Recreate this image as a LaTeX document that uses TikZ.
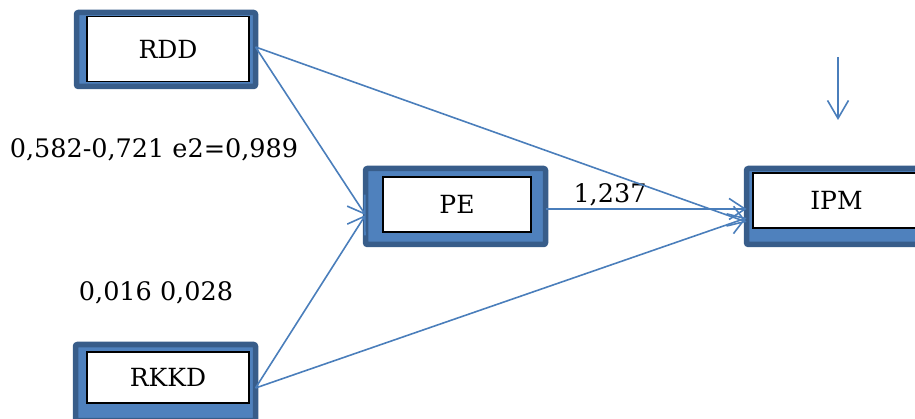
\documentclass[tikz,border=0pt]{standalone}
\usepackage{fontspec}
\setmainfont{DejaVu Serif}
\usetikzlibrary{arrows.meta}
\definecolor{boxfill}{HTML}{4F81BD}
\definecolor{boxedge}{HTML}{385D8A}
\definecolor{linec}{HTML}{4A7EBB}
\begin{document}
\begin{tikzpicture}[x=1pt,y=-1pt,
  frame/.style={draw=boxedge, fill=boxfill, line width=5.5pt, rounded corners=2pt,
    inner sep=0pt, outer sep=0pt},
  boxlabel/.style={draw=black, fill=white, line width=1.1pt, inner sep=0pt, outer sep=0pt,
    font=\fontsize{25}{29}\selectfont},
  txt/.style={inner sep=0pt, font=\fontsize{25.5}{29}\selectfont},
  conn/.style={draw=linec, line width=1.6pt, -{Straight Barb[length=16pt,width=21pt,line width=1.6pt]}}
]
\useasboundingbox (0,0) rectangle (915,419);
% frames
\node[frame, minimum width=179pt, minimum height=74pt] (rdd) at (166,49.5) {};
\node[frame, minimum width=180pt, minimum height=76pt] (pe) at (455.5,206.5) {};
\node[frame, minimum width=180pt, minimum height=76pt] (ipm) at (836.5,206.5) {};
\node[frame, minimum width=180pt, minimum height=76pt] (rkkd) at (165.5,382.5) {};
% inner label boxes
\node[boxlabel, minimum width=162pt, minimum height=65pt] (rddl) at (168,49) {RDD};
\node[boxlabel, minimum width=148pt, minimum height=55pt] (pel) at (457,204.5) {PE};
\node[boxlabel, minimum width=167pt, minimum height=55pt] (ipml) at (836.5,200.5) {IPM};
\node[boxlabel, minimum width=162pt, minimum height=51pt] (rkkdl) at (168,377.5) {RKKD};
% texts
\node[txt] (t1) at (154,150) {0,582-0,721 e2=0,989};
\node[txt] (t2) at (610,195) {1,237};
\node[txt] (t3) at (156,293) {0,016 0,028};
% connectors
\draw[conn] ([yshift=2.5pt]rdd.east) -- ([yshift=-8.5pt]pe.west);
\draw[conn] ([yshift=-5.5pt]rkkd.east) -- ([yshift=-8.5pt]pe.west);
\draw[conn] ([yshift=2.5pt]rdd.east) -- ([yshift=-15.5pt]ipm.west);
\draw[conn] ([yshift=-5.5pt]rkkd.east) -- ([yshift=-11.5pt]ipm.west);
\draw[conn] ([yshift=-2.5pt]pe.east) -- ([yshift=-2.5pt]ipm.west);
% free arrow
\coordinate (dtop) at (838,57);
\coordinate (dbot) at (838,120);
\draw[conn, -{Straight Barb[length=18pt,width=21pt,line width=1.6pt]}] (dtop) -- (dbot);
\end{tikzpicture}
\end{document}
